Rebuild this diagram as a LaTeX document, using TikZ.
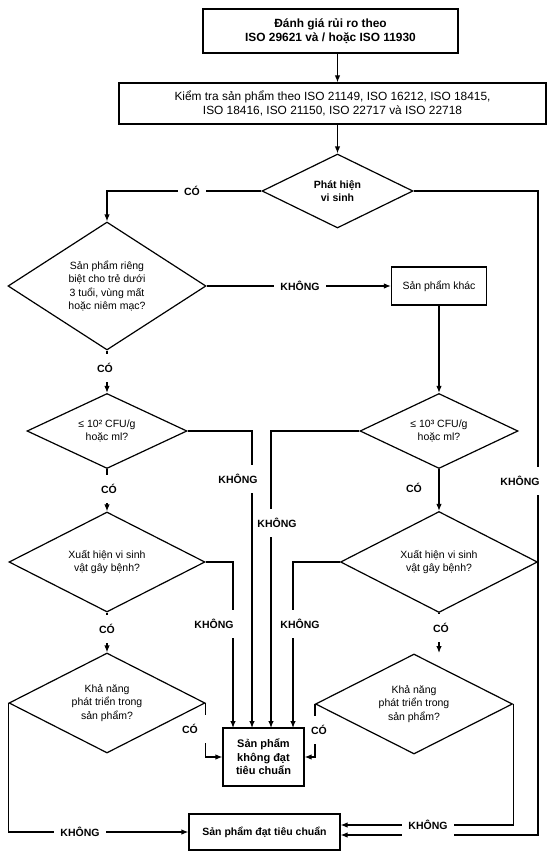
\documentclass[tikz,border=0pt]{standalone}
\usepackage{fontspec}
\setmainfont{Liberation Sans}
\usepackage{tikz}
\usetikzlibrary{shapes,arrows,arrows.meta,positioning}

\begin{document}
\begin{tikzpicture}[>={Latex[length=7pt,width=5.5pt]}, x=1pt, y=-1pt, line width=1.2pt,
    font=\fontsize{10.5}{13.5}\selectfont]

\tikzstyle{box}=[
    rectangle,
    draw,
    align=center,
    inner sep=2pt
]
\tikzstyle{dia}=[diamond, draw, align=center, inner sep=0pt, aspect=2]
\tikzstyle{lbl}=[font=\fontsize{10.5}{12}\selectfont\bfseries, inner xsep=6pt, inner ysep=9pt]

\useasboundingbox (0,0) rectangle (556,864);

\node[box, font=\fontsize{11.9}{14}\selectfont\bfseries, minimum width=255pt, minimum height=44pt] (risk) at (330.5,31) {Đánh giá rủi ro theo\\ISO 29621 và / hoặc ISO 11930};
\node[box, font=\fontsize{11.9}{14}\selectfont, minimum width=427pt, minimum height=41pt] (test) at (332.5,103.5) {Kiểm tra sản phẩm theo ISO 21149, ISO 16212, ISO 18415,\\ISO 18416, ISO 21150, ISO 22717 và ISO 22718};
\node[dia, font=\fontsize{10.5}{13.5}\selectfont\bfseries, minimum width=151pt, minimum height=74pt] (detect) at (337.5,191) {Phát hiện\\vi sinh};
\node[dia, aspect=1.55, minimum width=198pt, minimum height=128pt] (infant) at (107,286) {Sản phẩm riêng\\biệt cho trẻ dưới\\3 tuổi, vùng mất\\hoặc niêm mạc?};
\node[box, minimum width=95pt, minimum height=38pt] (other) at (439,286) {Sản phẩm khác};

\node[dia, minimum width=160pt, minimum height=75pt] (lim2) at (107,431) {≤ 10² CFU/g\\hoặc ml?};
\node[dia, minimum width=158pt, minimum height=75pt] (lim3) at (439,431) {≤ 10³ CFU/g\\hoặc ml?};
\node[dia, minimum width=196pt, minimum height=100pt] (path1) at (107,562) {Xuất hiện vi sinh\\vật gây bệnh?};
\node[dia, minimum width=197pt, minimum height=101pt] (path2) at (439,562) {Xuất hiện vi sinh\\vật gây bệnh?};
\node[dia, minimum width=196pt, minimum height=100pt] (grow1) at (107,703) {Khả năng\\phát triển trong\\sản phẩm?};
\node[dia, minimum width=197pt, minimum height=100pt] (grow2) at (414,704) {Khả năng\\phát triển trong\\sản phẩm?};

\node[box, font=\fontsize{11}{13.5}\selectfont\bfseries, minimum width=81pt, minimum height=58pt] (fail) at (263.5,757) {Sản phẩm\\không đạt\\tiêu chuẩn};
\node[box, font=\fontsize{10.5}{13.5}\selectfont\bfseries, minimum width=151pt, minimum height=36pt] (pass) at (264.5,832) {Sản phẩm đạt tiêu chuẩn};

% yes / no labels
\node[lbl] (c1) at (192,191) {CÓ};
\node[lbl] (k2) at (300,286) {KHÔNG};
\node[lbl] (c2) at (105,368) {CÓ};
\node[lbl] (k3) at (238,479) {KHÔNG};
\node[lbl] (c3) at (109,489) {CÓ};
\node[lbl] (k4) at (277,523) {KHÔNG};
\node[lbl] (c4) at (414,488) {CÓ};
\node[lbl] (kr) at (520,481) {KHÔNG};
\node[lbl] (k5) at (214,624) {KHÔNG};
\node[lbl] (k6) at (300,624) {KHÔNG};
\node[lbl] (c5) at (107,629) {CÓ};
\node[lbl] (c6) at (441,628) {CÓ};
\node[lbl] (c7) at (190,729) {CÓ};
\node[lbl] (c8) at (319,730) {CÓ};
\node[lbl] (k7) at (80,832) {KHÔNG};
\node[lbl] (k8) at (428,825) {KHÔNG};

\coordinate (f1) at (233,728);
\coordinate (f2) at (252,728);
\coordinate (f3) at (271,728);
\coordinate (f4) at (293,728);
\coordinate (rc) at (538,835);
\coordinate (g8) at (439,653);

\draw[->] (risk.south -| detect) -- (test.north -| detect);
\draw[->] (test.south -| detect) -- (detect.north);

\draw (detect.west) -- (c1.east);
\draw[->] (c1.west) -| (infant.north);
\draw (detect.east) -| (kr.north -| rc);
\draw (kr.south -| rc) -- (rc) -- (k8.east |- rc);
\draw[->] (k8.west |- rc) -- (pass.east |- rc);

\draw (infant.east) -- (k2.west);
\draw[->] (k2.east) -- (other.west);
\draw (infant.south) -- (infant.south |- c2.north);
\draw[->] (infant.south |- c2.south) -- (lim2.north);
\draw[->] (other.south) -- (lim3.north);

\draw (lim2.east) -| (f2 |- k3.north);
\draw[->] (f2 |- k3.south) -- (f2);
\draw (lim3.west) -| (f3 |- k4.north);
\draw[->] (f3 |- k4.south) -- (f3);
\draw (lim2.south) -- (lim2.south |- c3.north);
\draw[->] (lim2.south |- c3.south) -- (path1.north);
\draw[->] (lim3.south) -- (path2.north);

\draw (path1.east) -| (f1 |- k5.north);
\draw[->] (f1 |- k5.south) -- (f1);
\draw (path2.west) -| (f4 |- k6.north);
\draw[->] (f4 |- k6.south) -- (f4);
\draw (path1.south) -- (path1.south |- c5.north);
\draw[->] (path1.south |- c5.south) -- (grow1.north);
\draw (path2.south) -- (path2.south |- c6.north);
\draw[->] (path2.south |- c6.south) -- (g8);

\draw (grow1.east) -- (grow1.east |- c7.north);
\draw[->] (grow1.east |- c7.south) |- (fail.west);
\draw (grow2.west) -- (grow2.west |- c8.north);
\draw[->] (grow2.west |- c8.south) |- (fail.east);
\draw (grow1.west) |- (k7.west);
\draw[->] (k7.east) -- (pass.west);
\draw (grow2.east) |- (k8.east);
\draw[->] (k8.west) -- (pass.east |- k8);

\end{tikzpicture}
\end{document}
